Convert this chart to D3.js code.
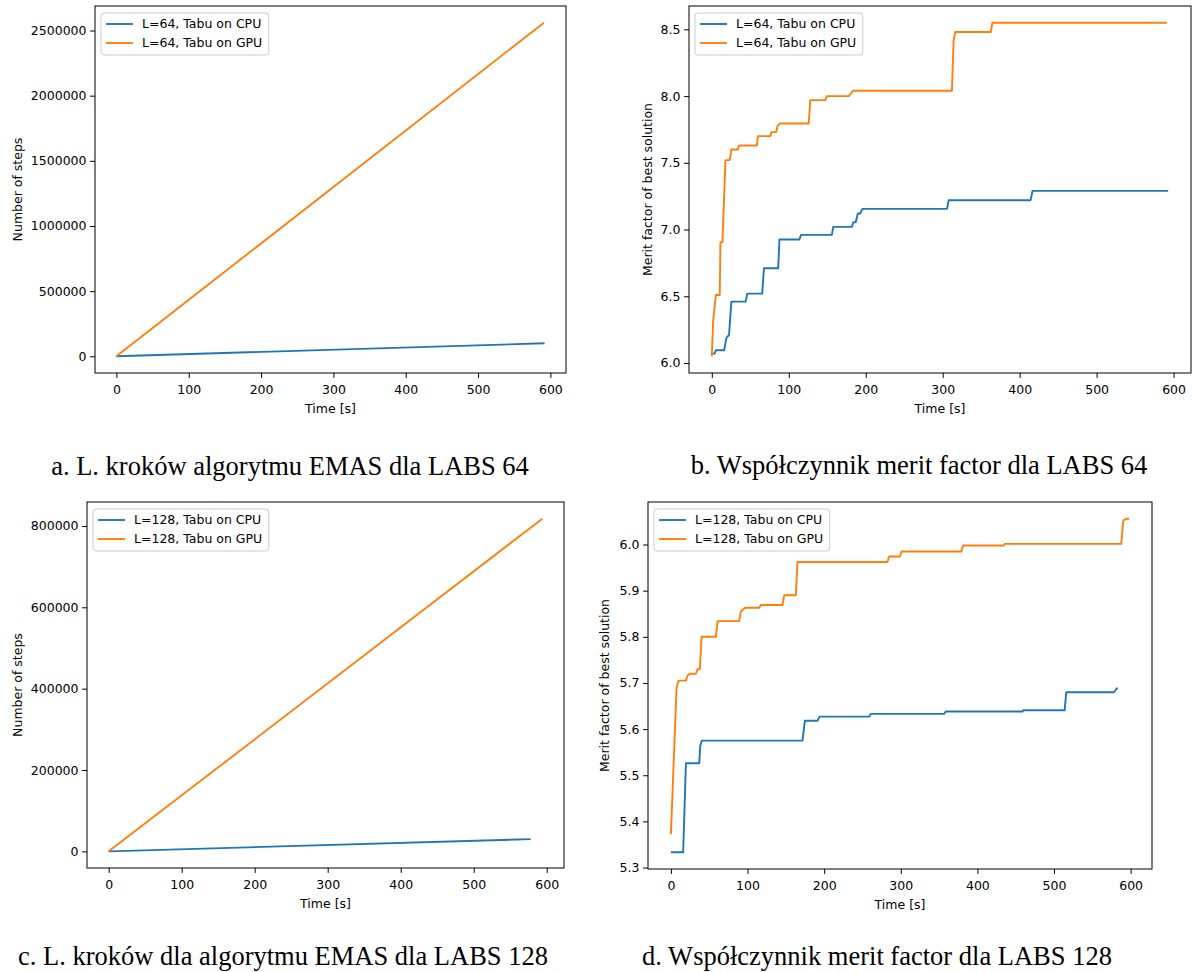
<!DOCTYPE html>
<html>
<head>
<meta charset="utf-8">
<title>EMAS / LABS</title>
<script src="https://cdnjs.cloudflare.com/ajax/libs/d3/7.8.5/d3.min.js"></script>
<style>
  body { margin: 0; background: #fff; }
  svg text { font-family: "DejaVu Sans", sans-serif; fill: #000; }
  .caption { font-family: "Liberation Serif", "Times New Roman", serif; font-size: 26.5px; }
</style>
</head>
<body>
<svg id="chart" width="1192" height="972"></svg>
<script>
var xTicks = [0, 100, 200, 300, 400, 500, 600];

// a. number of steps, L=64
var stepsCpuTime64 = [0, 592];
var stepsCpu64 = [0, 100000];
var stepsGpuTime64 = [0, 591];
var stepsGpu64 = [0, 2560000];
var stepsTicks64 = [0, 500000, 1000000, 1500000, 2000000, 2500000];

// b. merit factor, L=64
var meritCpuTime64 = [0, 3.4, 5.2, 16, 19, 22.4, 25.4, 44, 46.1, 65.5, 67.7, 86.2, 87.9, 113.8, 116, 156, 157.8, 181.9, 184, 187, 189.7, 192.7, 195.7, 305.6, 307.8, 414.2, 416.7, 593];
var meritCpu64 = [6.07, 6.07, 6.095, 6.095, 6.19, 6.21, 6.46, 6.46, 6.52, 6.52, 6.71, 6.71, 6.925, 6.925, 6.96, 6.96, 7.02, 7.02, 7.055, 7.055, 7.12, 7.12, 7.155, 7.155, 7.22, 7.22, 7.29, 7.29];
var meritGpuTime64 = [0, 1.7, 5.2, 10.3, 11.2, 13.8, 17.7, 23.3, 25.4, 34, 35.3, 58.6, 59.9, 75.9, 77.6, 83.6, 85.3, 88.8, 125.9, 128, 147.4, 149.6, 178.4, 180.6, 183.6, 312, 314.2, 316.4, 362.4, 364.6, 591];
var meritGpu64 = [6.05, 6.31, 6.51, 6.51, 6.905, 6.905, 7.52, 7.52, 7.6, 7.6, 7.63, 7.63, 7.70, 7.70, 7.73, 7.73, 7.775, 7.795, 7.795, 7.97, 7.97, 8.0, 8.0, 8.02, 8.04, 8.04, 8.42, 8.48, 8.48, 8.55, 8.55];
var meritTicks64 = [6.0, 6.5, 7.0, 7.5, 8.0, 8.5];

// c. number of steps, L=128
var stepsCpuTime128 = [0, 578];
var stepsCpu128 = [0, 30000];
var stepsGpuTime128 = [0, 594];
var stepsGpu128 = [0, 818000];
var stepsTicks128 = [0, 200000, 400000, 600000, 800000];

// d. merit factor, L=128
var meritCpuTime128 = [0, 16, 19.6, 37, 38.3, 40.4, 171.7, 174.8, 191.3, 193.9, 258.7, 260.9, 356.5, 358.7, 458.7, 460, 513.9, 516, 578.3, 581.7, 583.5];
var meritCpu128 = [5.333, 5.333, 5.526, 5.526, 5.564, 5.575, 5.575, 5.618, 5.618, 5.627, 5.627, 5.633, 5.633, 5.638, 5.638, 5.641, 5.641, 5.68, 5.68, 5.688, 5.688];
var meritGpuTime128 = [0, 7.4, 10, 19.6, 21.7, 25.2, 32.6, 34.8, 37.8, 40, 58.7, 60.9, 89, 91.3, 96.7, 115.2, 117.4, 145.7, 147.8, 163, 165.2, 282.6, 284.8, 299, 300.9, 379, 381.3, 434.8, 436, 587.8, 590.4, 594.8, 598];
var meritGpu128 = [5.372, 5.69, 5.705, 5.705, 5.716, 5.72, 5.72, 5.73, 5.73, 5.80, 5.80, 5.834, 5.834, 5.855, 5.863, 5.863, 5.869, 5.869, 5.89, 5.89, 5.962, 5.962, 5.974, 5.974, 5.985, 5.985, 5.998, 5.998, 6.0015, 6.0015, 6.052, 6.056, 6.056];
var meritTicks128 = [5.3, 5.4, 5.5, 5.6, 5.7, 5.8, 5.9, 6.0];

var blue = "#1f77b4", orange = "#ff7f0e";

var panels = [
  { box: {left: 95, top: 6, right: 566, bottom: 373},
    series: [
      {t: stepsCpuTime64, v: stepsCpu64, name: "L=64, Tabu on CPU", color: blue},
      {t: stepsGpuTime64, v: stepsGpu64, name: "L=64, Tabu on GPU", color: orange}],
    yTicks: stepsTicks64, yFormat: d3.format("d"),
    ylabel: "Number of steps", ylabelX: 18,
    caption: "a. L. kroków algorytmu EMAS dla LABS 64", capX: 290, capY: 475 },
  { box: {left: 689, top: 6, right: 1191, bottom: 373},
    series: [
      {t: meritCpuTime64, v: meritCpu64, name: "L=64, Tabu on CPU", color: blue},
      {t: meritGpuTime64, v: meritGpu64, name: "L=64, Tabu on GPU", color: orange}],
    yTicks: meritTicks64, yFormat: d3.format(".1f"),
    ylabel: "Merit factor of best solution", ylabelX: 648,
    caption: "b. Współczynnik merit factor dla LABS 64", capX: 919, capY: 474 },
  { box: {left: 87, top: 502, right: 564, bottom: 868},
    series: [
      {t: stepsCpuTime128, v: stepsCpu128, name: "L=128, Tabu on CPU", color: blue},
      {t: stepsGpuTime128, v: stepsGpu128, name: "L=128, Tabu on GPU", color: orange}],
    yTicks: stepsTicks128, yFormat: d3.format("d"),
    ylabel: "Number of steps", ylabelX: 18,
    caption: "c. L. kroków dla algorytmu EMAS dla LABS 128", capX: 283, capY: 965 },
  { box: {left: 648, top: 502, right: 1152, bottom: 869},
    series: [
      {t: meritCpuTime128, v: meritCpu128, name: "L=128, Tabu on CPU", color: blue},
      {t: meritGpuTime128, v: meritGpu128, name: "L=128, Tabu on GPU", color: orange}],
    yTicks: meritTicks128, yFormat: d3.format(".1f"),
    ylabel: "Merit factor of best solution", ylabelX: 605,
    caption: "d. Współczynnik merit factor dla LABS 128", capX: 877, capY: 965 }
];

var svg = d3.select("#chart");

// matplotlib-like autoscale: data extent plus 5% on each side
function padded(values) {
  var ext = d3.extent(values), m = (ext[1] - ext[0]) * 0.05;
  return [ext[0] - m, ext[1] + m];
}

panels.forEach(function(p, i) {
  var b = p.box,
      w = b.right - b.left,
      h = b.bottom - b.top;

  var x = d3.scaleLinear()
      .domain(padded(d3.merge(p.series.map(function(s) { return s.t; }))))
      .range([0, w]);
  var y = d3.scaleLinear()
      .domain(padded(d3.merge(p.series.map(function(s) { return s.v; }))))
      .range([h, 0]);

  var g = svg.append("g")
      .attr("transform", "translate(" + b.left + "," + b.top + ")");

  svg.append("clipPath")
      .attr("id", "clip" + i)
    .append("rect")
      .attr("width", w)
      .attr("height", h);

  var line = d3.line()
      .x(function(d) { return x(d[0]); })
      .y(function(d) { return y(d[1]); });

  g.append("g")
      .attr("clip-path", "url(#clip" + i + ")")
    .selectAll("path")
    .data(p.series)
    .enter().append("path")
      .attr("d", function(s) { return line(d3.zip(s.t, s.v)); })
      .attr("fill", "none")
      .attr("stroke", function(s) { return s.color; })
      .attr("stroke-width", 1.9)
      .attr("stroke-linejoin", "round");

  var xAxis = g.append("g")
      .attr("transform", "translate(0," + h + ")")
      .call(d3.axisBottom(x).tickValues(xTicks).tickFormat(d3.format("d")).tickSize(4.9).tickPadding(7));
  var yAxis = g.append("g")
      .call(d3.axisLeft(y).tickValues(p.yTicks).tickFormat(p.yFormat).tickSize(4.9).tickPadding(3.6));
  [xAxis, yAxis].forEach(function(a) {
    a.select(".domain").remove();
    a.selectAll("text").attr("font-size", 12.5).attr("font-family", "DejaVu Sans").attr("fill", "#000");
    a.selectAll("line").attr("stroke", "#000").attr("stroke-width", 1);
  });

  g.append("rect")
      .attr("width", w)
      .attr("height", h)
      .attr("fill", "none")
      .attr("stroke", "#000")
      .attr("stroke-width", 1);

  g.append("text")
      .attr("x", w / 2)
      .attr("y", h + 40)
      .attr("text-anchor", "middle")
      .attr("font-size", 12.5)
      .text("Time [s]");

  svg.append("text")
      .attr("transform", "translate(" + p.ylabelX + "," + (b.top + h / 2) + ") rotate(-90)")
      .attr("text-anchor", "middle")
      .attr("dy", "0.35em")
      .attr("font-size", 12.5)
      .text(p.ylabel);

  // legend, upper left
  var lg = g.append("g").attr("transform", "translate(6,7)");
  var box = lg.append("rect")
      .attr("height", 42)
      .attr("rx", 3)
      .attr("fill", "#fff")
      .attr("fill-opacity", 0.8)
      .attr("stroke", "#ccc")
      .attr("stroke-width", 1);
  var maxW = 0;
  p.series.forEach(function(s, k) {
    var cy = 11 + k * 19;
    lg.append("line")
        .attr("x1", 5).attr("x2", 32)
        .attr("y1", cy).attr("y2", cy)
        .attr("stroke", s.color)
        .attr("stroke-width", 1.9);
    var t = lg.append("text")
        .attr("x", 41)
        .attr("y", cy)
        .attr("dy", "0.35em")
        .attr("font-size", 12.5)
        .text(s.name);
    maxW = Math.max(maxW, t.node().getComputedTextLength());
  });
  box.attr("width", 41 + maxW + 6.5);

  svg.append("text")
      .attr("class", "caption")
      .attr("x", p.capX)
      .attr("y", p.capY)
      .attr("text-anchor", "middle")
      .text(p.caption);
});
</script>
</body>
</html>
